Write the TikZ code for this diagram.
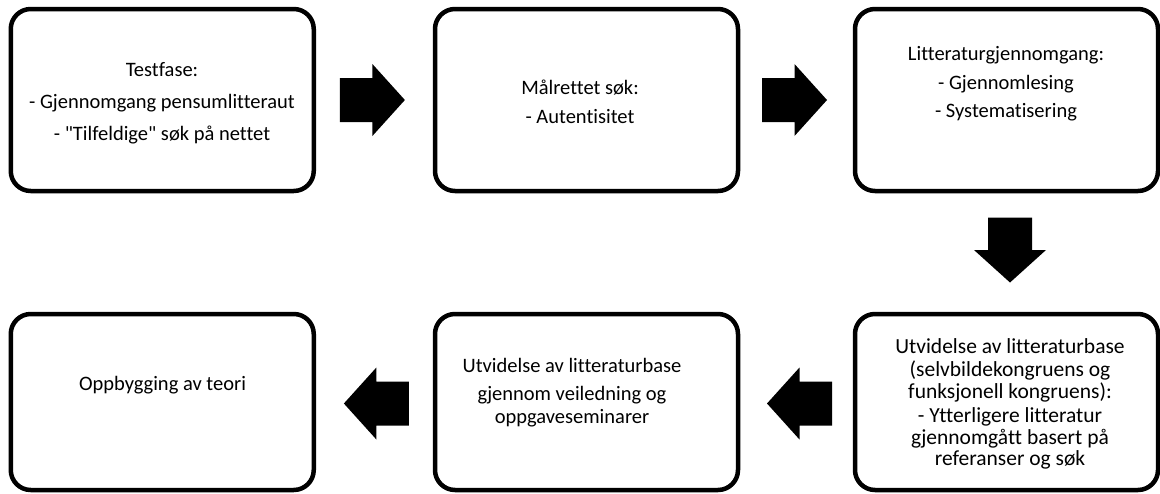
\documentclass[tikz,border=0pt]{standalone}
\usepackage{fontspec}
\setmainfont{Carlito}[Ligatures={TeXOff,NoCommon}]
\usetikzlibrary{calc}
\begin{document}
\begin{tikzpicture}[x=1pt,y=-1pt,
  box/.style={draw, line width=4.5pt, rounded corners=20pt, minimum width=303pt, minimum height=#1, inner sep=0pt},
  box/.default=182pt,
  txt/.style={align=center, inner sep=0pt, font=\fontsize{20.5}{22.5}\selectfont},
  bigtxt/.style={align=center, inner sep=0pt, font=\fontsize{21.5}{21.5}\selectfont},
  blockarrow/.pic={\fill (-32.5,-22)--(0,-22)--(0,-36)--(32.5,0)--(0,36)--(0,22)--(-32.5,22)--cycle;}
]
\useasboundingbox (0,0) rectangle (1160,493);
% boxes
\node[box] (b1) at (162.25,100) {};
\node[box] (b2) at (586.5,100) {};
\node[box] (b3) at (1006.5,100) {};
\node[box=176pt] (b4) at (162.25,402) {};
\node[box=176pt] (b5) at (586.5,402) {};
\node[box=176pt] (b6) at (1006.5,402) {};
% texts
\node[txt] (t1) at (162,103) {Testfase:\\[9.5pt]- Gjennomgang pensumlitteraut\\[9.5pt]- "Tilfeldige" søk på nettet};
\node[txt] (t2) at (580,101.5) {Målrettet søk:\\[6.5pt]- Autentisitet};
\node[txt] (t3) at (1006,83.5) {Litteraturgjennomgang:\\[6.5pt]- Gjennomlesing\\[6pt]- Systematisering};
\node[txt] (t4) at (162.5,385.5) {Oppbygging av teori};
\node[txt] (t5) at (572,392.5) {Utvidelse av litteraturbase\\[5.5pt]gjennom veiledning og\\oppgaveseminarer};
\node[bigtxt] (t6) at (1010,404) {Utvidelse av litteraturbase\\[2pt](selvbildekongruens og\\funksjonell kongruens):\\[3pt]- Ytterligere litteratur\\gjennomgått basert på\\referanser og søk};
% block arrows
\pic (a1) at ($(b1.east)!0.5!(b2.west)+(-2,0)$) {blockarrow};
\pic (a2) at ($(b2.east)!0.5!(b3.west)+(-2,0)$) {blockarrow};
\pic[rotate=-90] (a3) at ($(b3.south)!0.5!(b6.north)+(3.5,-2.5)$) {blockarrow};
\pic[rotate=180] (a4) at ($(b5.west)!0.5!(b4.east)+(2,1.5)$) {blockarrow};
\pic[rotate=180] (a5) at ($(b6.west)!0.5!(b5.east)+(3,1.5)$) {blockarrow};
\end{tikzpicture}
\end{document}
